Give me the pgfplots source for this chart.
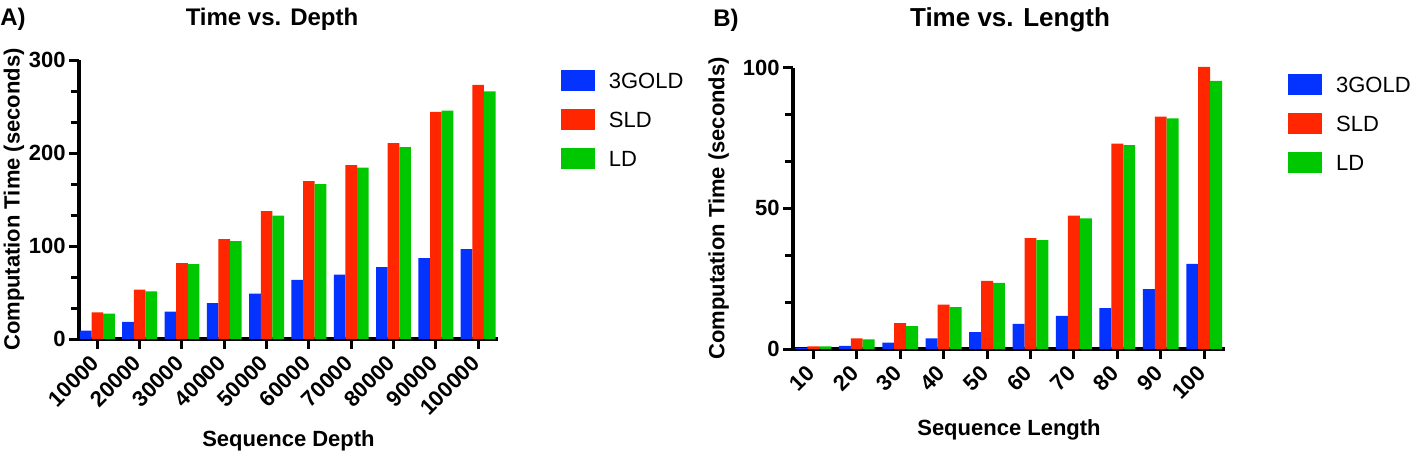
\documentclass[border=0pt]{standalone}
\usepackage{pgfplots}
\pgfplotsset{compat=1.18}
\usepackage{fontspec}
\setmainfont{Liberation Sans}
\definecolor{cblue}{RGB}{4,51,255}
\definecolor{cred}{RGB}{255,38,0}
\definecolor{cgreen}{RGB}{0,200,0}
\pgfplotsset{
  gpstyle/.style={
    scale only axis,
    anchor=south west,
    axis x line=bottom,
    axis y line=left,
    axis line style={-, line width=1.7pt, black},
    tick align=outside,
    tick style={line width=1.5pt, black},
    major tick length=5pt,
    minor tick length=4pt,
    minor y tick num=2,
    xtick={1,...,10},
    ymin=0,
    ybar,
    bar width=0.275,
    /pgf/number format/assume math mode=true,
    tick label style={font=\fontsize{11}{13}\selectfont\bfseries},
    xticklabel style={rotate=45, anchor=east, inner sep=1.5pt},
    xticklabel shift=4pt,
    yticklabel style={inner sep=1.5pt},
    label style={font=\fontsize{11}{13}\selectfont\bfseries},
    legend image code/.code={\fill[##1, draw=none] (0pt,-5.25pt) rectangle (17pt,5.25pt);},
    legend style={draw=none, fill=none, inner sep=0pt, outer sep=0pt,
      font=\fontsize{11}{13}\selectfont, row sep=9pt, column sep=0pt,
      nodes={inner sep=0pt, text height=8pt, text depth=0pt}},
    legend cell align=left,
    clip=false,
  }
}
\begin{document}
\begin{tikzpicture}
\useasboundingbox (0,0) rectangle (708pt,226pt);
% Panel A
\begin{axis}[gpstyle,
  at={(39.5pt,56.5pt)},
  width=209.5pt, height=139.5pt,
  xmin=0.566, xmax=10.47,
  ymax=300,
  ytick={0,100,200,300},
  xticklabels={10000,20000,30000,40000,50000,60000,70000,80000,90000,100000},
  xlabel={Sequence Depth},
  xlabel style={at={(axis description cs:0.5,-0.385)}, anchor=base},
  ylabel={Computation Time (seconds)},
  ylabel style={at={(axis description cs:-0.155,0.5)}, anchor=center},
  legend style={at={(axis description cs:1.150,0.964)}, anchor=north west},
]
\addplot[fill=cblue, draw=none, bar shift=-0.275] coordinates {
(1,9.0) (2,18.3) (3,29.4) (4,38.7) (5,48.7) (6,63.7) (7,69.1) (8,77.3) (9,87.0) (10,96.7)};
\addplot[fill=cred, draw=none, bar shift=0] coordinates {
(1,28.6) (2,53.0) (3,81.6) (4,107.4) (5,137.5) (6,169.7) (7,186.9) (8,210.5) (9,244.2) (10,273.2)};
\addplot[fill=cgreen, draw=none, bar shift=0.275] coordinates {
(1,27.2) (2,51.2) (3,80.6) (4,105.3) (5,132.8) (6,166.5) (7,184.4) (8,206.2) (9,245.6) (10,266.4)};
\legend{\hspace{7pt}3GOLD,\hspace{7pt}SLD,\hspace{7pt}LD}
\end{axis}
% Panel B
\begin{axis}[gpstyle,
  at={(396.5pt,51.5pt)},
  width=216pt, height=140.65pt,
  xmin=0.532, xmax=10.48,
  ymax=100,
  ytick={0,50,100},
  xticklabels={10,20,30,40,50,60,70,80,90,100},
  xlabel={Sequence Length},
  xlabel style={at={(axis description cs:0.5,-0.306)}, anchor=base},
  ylabel={Computation Time (seconds)},
  ylabel style={at={(axis description cs:-0.172,0.5)}, anchor=center},
  legend style={at={(axis description cs:1.146,0.978)}, anchor=north west},
]
\addplot[fill=cblue, draw=none, bar shift=-0.275] coordinates {
(1,0.4) (2,1.1) (3,2.3) (4,3.8) (5,6.0) (6,8.9) (7,11.8) (8,14.5) (9,21.3) (10,30.3)};
\addplot[fill=cred, draw=none, bar shift=0] coordinates {
(1,0.9) (2,3.8) (3,9.2) (4,15.8) (5,24.2) (6,39.4) (7,47.4) (8,73.0) (9,82.6) (10,100.3)};
\addplot[fill=cgreen, draw=none, bar shift=0.275] coordinates {
(1,0.9) (2,3.4) (3,8.1) (4,14.9) (5,23.5) (6,38.7) (7,46.4) (8,72.5) (9,82.0) (10,95.3)};
\legend{\hspace{7pt}3GOLD,\hspace{7pt}SLD,\hspace{7pt}LD}
\end{axis}
% titles and panel letters
\node[anchor=base, inner sep=0pt, font=\fontsize{12}{14}\selectfont\bfseries] at (136pt,213.5pt) {Time vs. Depth};
\node[anchor=base, inner sep=0pt, font=\fontsize{13}{15}\selectfont\bfseries] at (505pt,212.6pt) {Time vs. Length};
\node[anchor=base west, inner sep=0pt, font=\fontsize{12}{14}\selectfont\bfseries] at (0pt,213.5pt) {A)};
\node[anchor=base west, inner sep=0pt, font=\fontsize{12}{14}\selectfont\bfseries] at (356.5pt,213pt) {B)};
\end{tikzpicture}
\end{document}
